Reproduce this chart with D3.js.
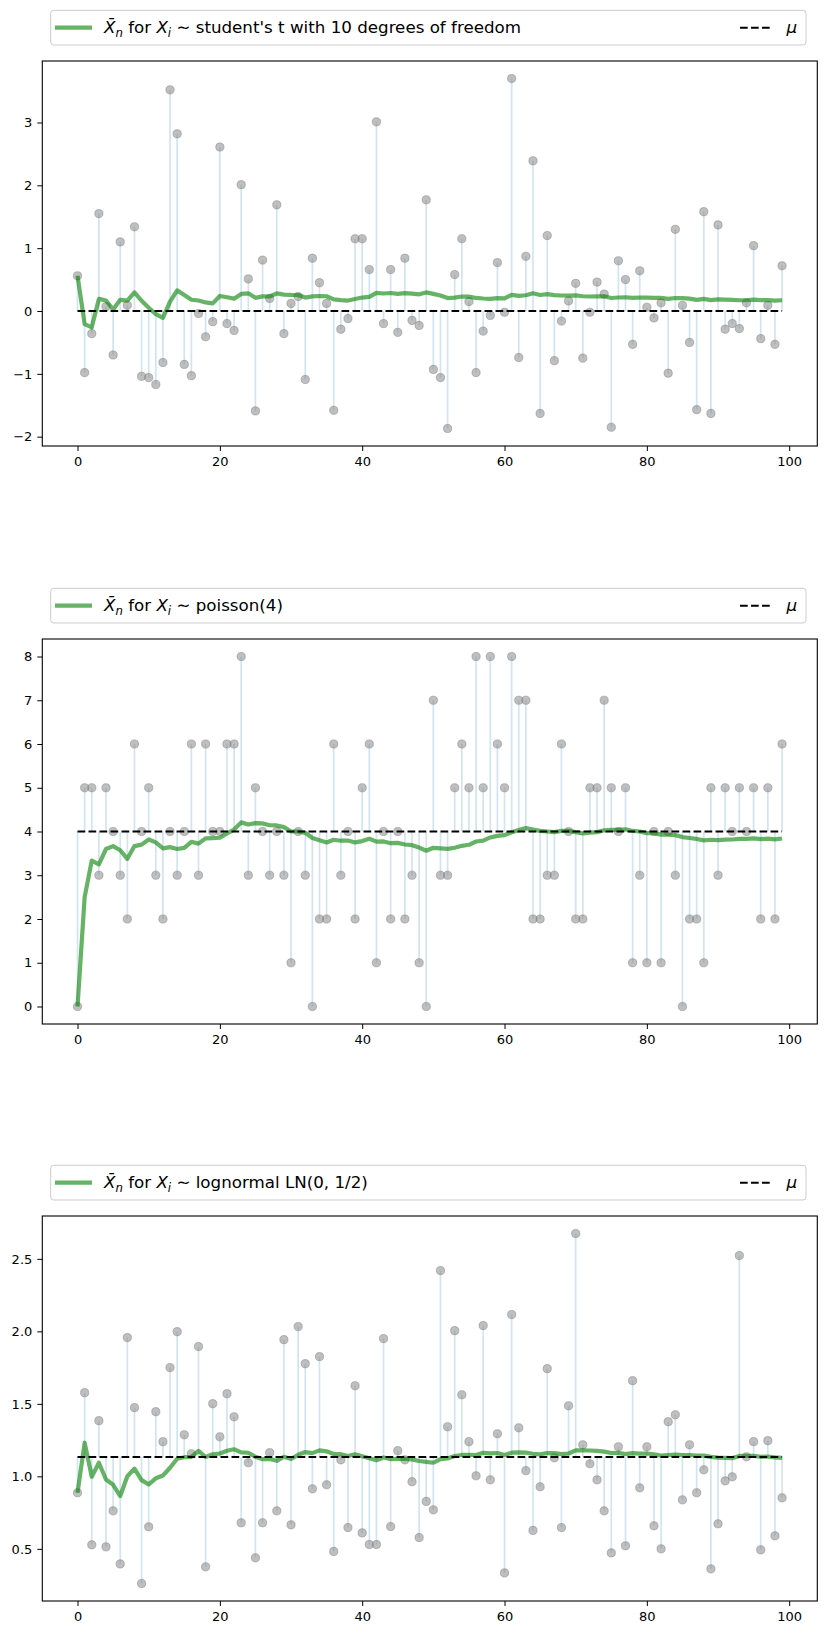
<!DOCTYPE html>
<html>
<head>
<meta charset="utf-8">
<script src="https://cdn.jsdelivr.net/npm/d3@7"></script>
<style>
  html, body { margin: 0; padding: 0; background: #fff; }
  svg text { font-family: "DejaVu Sans", sans-serif; }
</style>
</head>
<body>
<svg id="chart" width="826" height="1635"></svg>
<script>
// ---------------- DATA ----------------
const sampleIndex = d3.range(100);

const tSamples = [
  0.56, -0.98, -0.36, 1.55, 0.07, -0.70, 1.10, 0.09, 1.34, -1.04,
  -1.06, -1.17, -0.82, 3.52, 2.82, -0.85, -1.03, -0.04, -0.41, -0.17,
  2.61, -0.20, -0.31, 2.01, 0.51, -1.59, 0.81, 0.20, 1.69, -0.36,
  0.12, 0.23, -1.09, 0.84, 0.45, 0.12, -1.58, -0.29, -0.12, 1.15,
  1.15, 0.66, 3.01, -0.20, 0.66, -0.34, 0.84, -0.15, -0.23, 1.77,
  -0.93, -1.06, -1.87, 0.58, 1.15, 0.15, -0.98, -0.32, -0.07, 0.77,
  -0.02, 3.70, -0.74, 0.87, 2.39, -1.63, 1.20, -0.79, -0.16, 0.16,
  0.44, -0.75, -0.02, 0.46, 0.27, -1.85, 0.80, 0.50, -0.53, 0.64,
  0.06, -0.11, 0.13, -0.99, 1.30, 0.09, -0.50, -1.57, 1.58, -1.63,
  1.37, -0.29, -0.20, -0.28, 0.13, 1.04, -0.44, 0.09, -0.53, 0.72
];

const poissonSamples = [
  0, 5, 5, 3, 5, 4, 3, 2, 6, 4,
  5, 3, 2, 4, 3, 4, 6, 3, 6, 4,
  4, 6, 6, 8, 3, 5, 4, 3, 4, 3,
  1, 4, 3, 0, 2, 2, 6, 3, 4, 2,
  5, 6, 1, 4, 2, 4, 2, 3, 1, 0,
  7, 3, 3, 5, 6, 5, 8, 5, 8, 6,
  5, 8, 7, 7, 2, 2, 3, 3, 6, 4,
  2, 2, 5, 5, 7, 5, 4, 5, 1, 3,
  1, 4, 1, 4, 3, 0, 2, 2, 1, 5,
  3, 5, 4, 5, 4, 5, 2, 5, 2, 6
];

const lognormSamples = [
  0.887, 1.577, 0.528, 1.384, 0.514, 0.762, 0.396, 1.957, 1.474, 0.261,
  0.652, 1.446, 1.239, 1.750, 1.998, 1.287, 1.156, 1.895, 0.376, 1.501,
  1.273, 1.570, 1.411, 0.680, 1.094, 0.438, 0.680, 1.163, 0.762, 1.943,
  0.666, 2.033, 1.777, 0.914, 1.826, 0.942, 0.482, 1.114, 0.647, 1.625,
  0.610, 0.530, 0.530, 1.950, 0.654, 1.177, 1.114, 0.963, 0.578, 0.827,
  0.769, 2.419, 1.342, 2.005, 1.563, 1.239, 1.004, 2.040, 0.976, 1.294,
  0.334, 2.116, 1.335, 1.039, 0.627, 0.928, 1.743, 1.128, 0.647, 1.487,
  2.675, 1.218, 1.087, 0.976, 0.762, 0.472, 1.204, 0.521, 1.660, 0.921,
  1.204, 0.659, 0.500, 1.377, 1.425, 0.838, 1.218, 0.887, 1.045, 0.362,
  0.673, 0.969, 0.997, 2.523, 1.135, 1.239, 0.493, 1.246, 0.590, 0.852
];

const trueMeans = [0, 4, 1.133];
const distLabels = ["student's t with 10 degrees of freedom", "poisson(4)", "lognormal LN(0, 1/2)"];

const xTicks = [0, 20, 40, 60, 80, 100];
const yTicksT = [-2, -1, 0, 1, 2, 3];
const yTicksPoisson = [0, 1, 2, 3, 4, 5, 6, 7, 8];
const yTicksLognorm = [0.5, 1.0, 1.5, 2.0, 2.5];

// ---------------- LAYOUT ----------------
const svg = d3.select("#chart");
const axLeft = 42.3, axWidth = 775, axHeight = 385;
const panelTops = [61, 639, 1216];

const panels = [
  { samples: tSamples, mu: trueMeans[0], label: distLabels[0], yTicks: yTicksT, fmt: d => d3.format("d")(d).replace("-", "\u2212") },
  { samples: poissonSamples, mu: trueMeans[1], label: distLabels[1], yTicks: yTicksPoisson, fmt: d3.format("d") },
  { samples: lognormSamples, mu: trueMeans[2], label: distLabels[2], yTicks: yTicksLognorm, fmt: d3.format(".1f") }
];

panels.forEach((p, k) => {
  const top = panelTops[k];
  const g = svg.append("g").attr("transform", `translate(${axLeft},${top})`);

  const xs = d3.scaleLinear().domain([-4.95, 103.95]).range([0, axWidth]);
  const lo = Math.min(d3.min(p.samples), p.mu), hi = Math.max(d3.max(p.samples), p.mu);
  const pad = (hi - lo) * 0.05;
  const ys = d3.scaleLinear().domain([lo - pad, hi + pad]).range([axHeight, 0]);

  const cum = Array.from(d3.cumsum(p.samples));
  const runMean = cum.map((s, i) => s / (i + 1));

  // stems
  g.append("g").selectAll("line").data(sampleIndex).join("line")
    .attr("x1", i => xs(i)).attr("x2", i => xs(i))
    .attr("y1", ys(p.mu)).attr("y2", i => ys(p.samples[i]))
    .attr("stroke", "#1f77b4").attr("stroke-opacity", 0.2).attr("stroke-width", 1.7);

  // points
  g.append("g").selectAll("circle").data(sampleIndex).join("circle")
    .attr("cx", i => xs(i)).attr("cy", i => ys(p.samples[i])).attr("r", 4.1)
    .attr("fill", "#808080").attr("fill-opacity", 0.5)
    .attr("stroke", "#808080").attr("stroke-opacity", 0.5).attr("stroke-width", 1);

  // running mean
  g.append("path").datum(sampleIndex)
    .attr("d", d3.line().x(i => xs(i)).y(i => ys(runMean[i])))
    .attr("fill", "none").attr("stroke", "#008000").attr("stroke-opacity", 0.6)
    .attr("stroke-width", 4.2).attr("stroke-linejoin", "round");

  // mu line
  g.append("line")
    .attr("x1", xs(0)).attr("x2", xs(99)).attr("y1", ys(p.mu)).attr("y2", ys(p.mu))
    .attr("stroke", "#000").attr("stroke-width", 2).attr("stroke-dasharray", "7.7,3.3");

  // axes
  const xAxis = g.append("g").attr("transform", `translate(0,${axHeight})`)
    .call(d3.axisBottom(xs).tickValues(xTicks).tickSize(5).tickPadding(6).tickSizeOuter(0));
  const yAxis = g.append("g")
    .call(d3.axisLeft(ys).tickValues(p.yTicks).tickFormat(p.fmt).tickSize(5).tickPadding(5).tickSizeOuter(0));
  [xAxis, yAxis].forEach(a => {
    a.select(".domain").remove();
    a.selectAll("text").attr("font-size", 13).attr("fill", "#000").attr("font-family", "DejaVu Sans");
    a.selectAll("line").attr("stroke", "#000").attr("stroke-width", 1);
  });

  // frame
  g.append("rect").attr("x", 0).attr("y", 0).attr("width", axWidth).attr("height", axHeight)
    .attr("fill", "none").attr("stroke", "#000").attr("stroke-width", 1.1);

  // legend
  const lg = svg.append("g").attr("transform", `translate(0,${top - 50.7})`);
  lg.append("rect").attr("x", 50.7).attr("y", 0).attr("width", 755.3).attr("height", 34.7)
    .attr("rx", 3).attr("fill", "#fff").attr("fill-opacity", 0.8)
    .attr("stroke", "#cccccc").attr("stroke-width", 1);
  const cy = 17.35;
  lg.append("line").attr("x1", 55).attr("x2", 92).attr("y1", cy).attr("y2", cy)
    .attr("stroke", "#008000").attr("stroke-opacity", 0.6).attr("stroke-width", 4.2);
  const t = lg.append("text").attr("x", 104).attr("y", cy + 5.8)
    .attr("font-size", 16.7).attr("fill", "#000").style("white-space", "pre");
  t.append("tspan").attr("font-style", "italic").text("X\u0304");
  t.append("tspan").attr("font-style", "italic").attr("font-size", 11.7).attr("dy", 3.6).text("n");
  t.append("tspan").attr("dy", -3.6).text(" for ");
  t.append("tspan").attr("font-style", "italic").text("X");
  t.append("tspan").attr("font-style", "italic").attr("font-size", 11.7).attr("dy", 3.6).text("i");
  t.append("tspan").attr("dy", -3.6).text(" \u223C " + p.label);
  lg.append("line").attr("x1", 740).attr("x2", 770).attr("y1", cy).attr("y2", cy)
    .attr("stroke", "#000").attr("stroke-width", 2).attr("stroke-dasharray", "7.7,3.3");
  lg.append("text").attr("x", 786.5).attr("y", cy + 5.8).attr("font-size", 16.7)
    .attr("font-style", "italic").attr("fill", "#000").text("\u03BC");
});
</script>
</body>
</html>
